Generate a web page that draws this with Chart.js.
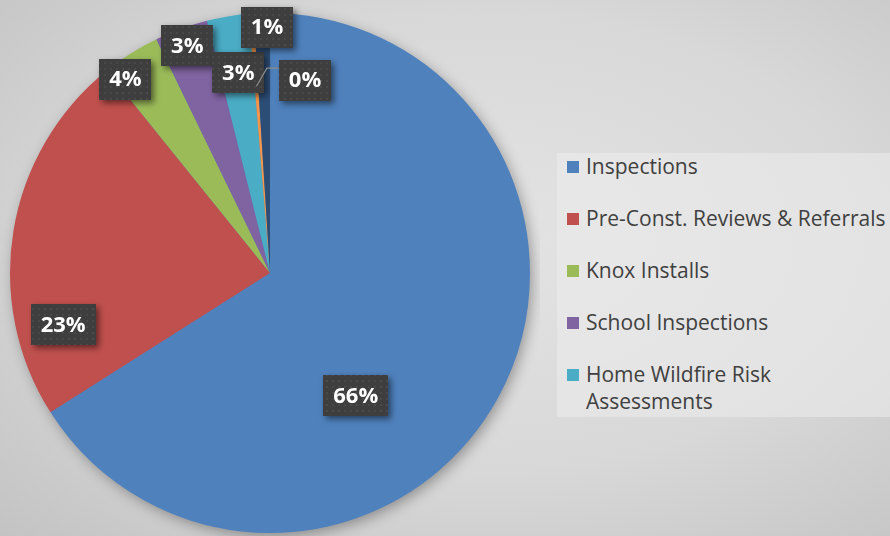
<!DOCTYPE html>
<html>
<head>
<meta charset="utf-8">
<script src="https://cdn.jsdelivr.net/npm/chart.js@4.4.0/dist/chart.umd.min.js"></script>
<style>
html, body { margin: 0; padding: 0; }
body {
    width: 890px; height: 536px; overflow: hidden; position: relative;
    background: radial-gradient(ellipse at 55% 45%, #e3e3e3 0%, #d8d8d8 55%, #c3c3c3 100%);
    font-family: "Open Sans", "Noto Sans", sans-serif;
}
#pieBox { position: absolute; left: 0; top: 0; width: 540px; height: 546px; }
#legend {
    position: absolute; left: 557px; top: 153px; width: 333px; height: 264px;
    background: rgba(236, 236, 236, 0.55);
}
#legend .item { position: relative; padding-left: 29px; margin-bottom: 25px; font-size: 21px; line-height: 27px; color: #404040; }
#legend .box { position: absolute; left: 10px; top: 8px; width: 12px; height: 12px; }
</style>
</head>
<body>
<div id="pieBox"><canvas id="pieChart"></canvas></div>
<div id="legend"></div>

<script>
/* DATA */
const categories = ["Inspections", "Pre-Const. Reviews & Referrals", "Knox Installs", "School Inspections", "Home Wildfire Risk Assessments", "Other", "Other Programs"];
const shares = [66, 23.2, 3.6, 3.3, 2.6, 0.3, 1.0];
const sliceColors = ["#4f81bd", "#c0504d", "#9bbb59", "#8064a2", "#4bacc6", "#f79646", "#2c4d75"];
const legendCount = 5; // only first five shown in legend
// label spots: [angle deg clockwise from top, fraction of radius]
const labelSpots = [[145, 0.575], [256, 0.82], [323.3, 0.93], [340, 0.93], [351, 0.78], [10.3, 0.754], [359.3, 0.946]];

/* LEGEND */
var legendEl = document.getElementById("legend");
for (var i = 0; i < legendCount; i++) {
    var it = document.createElement("div");
    it.className = "item";
    it.innerHTML = '<span class="box" style="background:' + sliceColors[i] + '"></span>' +
        categories[i].replace("Risk ", "Risk<br>");
    legendEl.appendChild(it);
}

/* DOTTED BOX PATTERN */
function makePattern(ctx) {
    var p = document.createElement("canvas");
    p.width = 6; p.height = 6;
    var c = p.getContext("2d");
    c.fillStyle = "#3e3e3e";
    c.fillRect(0, 0, 6, 6);
    c.fillStyle = "#494949";
    c.fillRect(2, 2, 2, 2);
    return ctx.createPattern(p, "repeat");
}

/* PLUGINS */
const pieShadow = {
    id: "pieShadow",
    beforeDatasetsDraw(chart) {
        var arc = chart.getDatasetMeta(0).data[0];
        var ctx = chart.ctx;
        ctx.save();
        ctx.shadowColor = "rgba(0,0,0,0.35)";
        ctx.shadowBlur = 14;
        ctx.shadowOffsetX = 3;
        ctx.shadowOffsetY = 4;
        ctx.fillStyle = sliceColors[0];
        ctx.beginPath();
        ctx.arc(arc.x, arc.y, arc.outerRadius - 1, 0, Math.PI * 2);
        ctx.fill();
        ctx.restore();
    }
};

const boxLabels = {
    id: "boxLabels",
    afterDatasetsDraw(chart) {
        var ctx = chart.ctx;
        var arcs = chart.getDatasetMeta(0).data;
        var pat = makePattern(ctx);
        ctx.save();
        ctx.font = "bold 22px 'Open Sans', sans-serif";
        arcs.forEach(function(arc, i) {
            var R = arc.outerRadius;
            var a = labelSpots[i][0] * Math.PI / 180;
            var px = arc.x + R * labelSpots[i][1] * Math.sin(a);
            var py = arc.y - R * labelSpots[i][1] * Math.cos(a);
            var txt = Math.round(shares[i]) + "%";
            var w = ctx.measureText(txt).width + 20;
            var h = 41;
            // leader line for the tiny slice
            if (i === 5) {
                var mid = (arc.startAngle + arc.endAngle) / 2;
                var tx = arc.x + R * 0.72 * Math.cos(mid);
                var ty = arc.y + R * 0.72 * Math.sin(mid);
                ctx.strokeStyle = "#8c8c8c";
                ctx.lineWidth = 1.2;
                ctx.beginPath();
                ctx.moveTo(px - w / 2, py - 12);
                ctx.lineTo(px - w / 2 - 12, py - 12);
                ctx.lineTo(tx, ty);
                ctx.stroke();
            }
            ctx.shadowColor = "rgba(0,0,0,0.5)";
            ctx.shadowBlur = 6;
            ctx.shadowOffsetX = 3;
            ctx.shadowOffsetY = 3;
            ctx.fillStyle = pat;
            ctx.fillRect(Math.round(px - w / 2), Math.round(py - h / 2), Math.round(w), h);
            ctx.shadowColor = "transparent";
            ctx.fillStyle = "#ffffff";
            ctx.textAlign = "center";
            ctx.textBaseline = "middle";
            ctx.fillText(txt, px, py + 1);
        });
        ctx.restore();
    }
};

/* CHART */
new Chart(document.getElementById("pieChart"), {
    type: "pie",
    data: {
        labels: categories,
        datasets: [{
            data: shares,
            backgroundColor: sliceColors,
            borderWidth: 0
        }]
    },
    options: {
        responsive: true,
        maintainAspectRatio: false,
        animation: false,
        events: [],
        layout: { padding: 10 },
        plugins: {
            legend: { display: false },
            tooltip: { enabled: false }
        }
    },
    plugins: [pieShadow, boxLabels]
});
</script>
</body>
</html>
